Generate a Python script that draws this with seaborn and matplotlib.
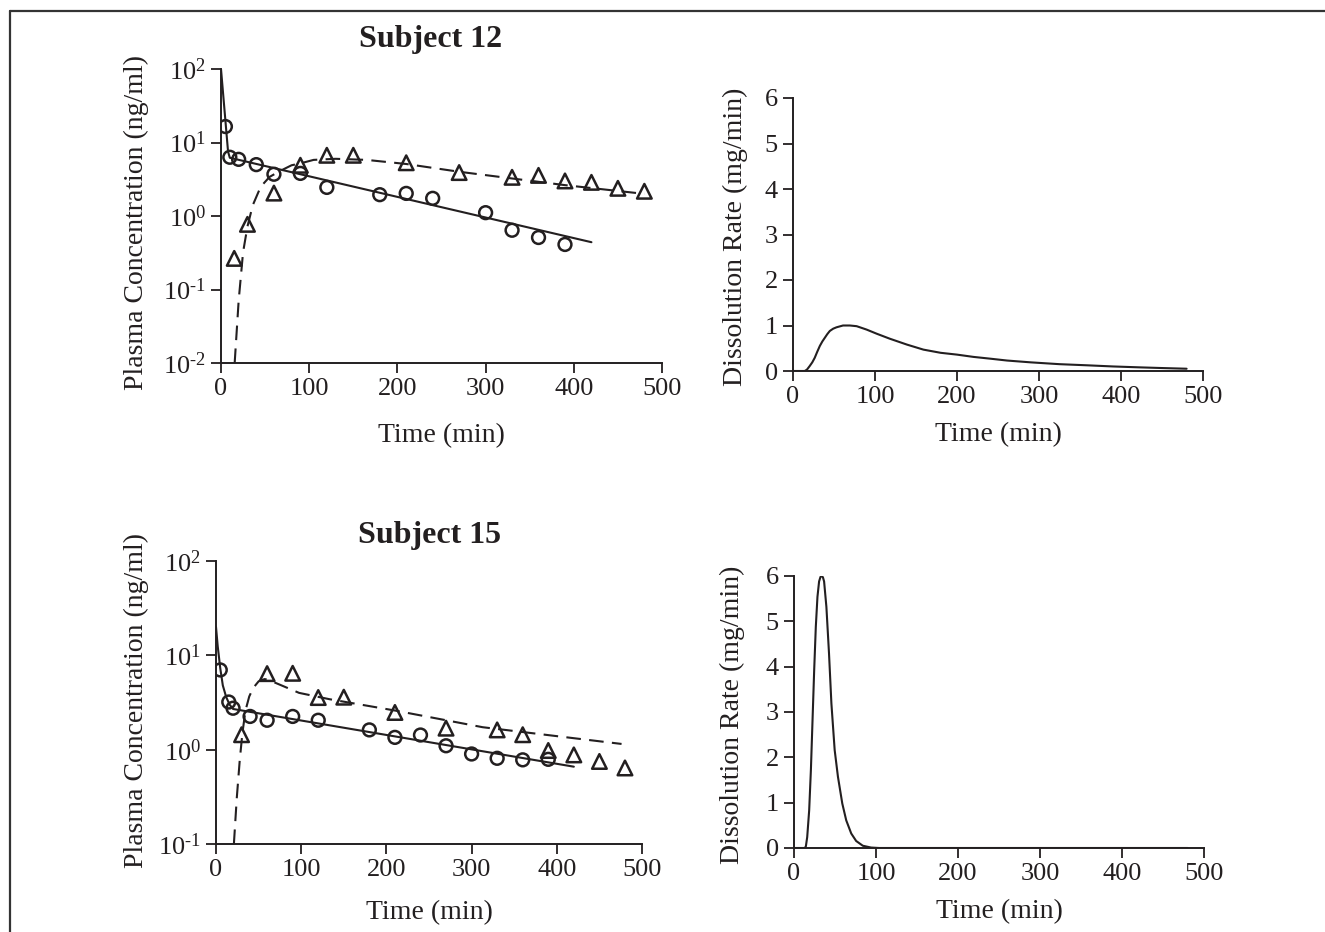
import matplotlib
matplotlib.use("Agg")
import matplotlib.pyplot as plt
import seaborn as sns
from matplotlib.lines import Line2D
from matplotlib.ticker import FixedLocator, FuncFormatter, NullLocator, MultipleLocator

# ---- data ----
# Subject 12, observed points
s12_circ_t = [5, 10, 20, 40, 60, 90, 120, 180, 210, 240, 300, 330, 360, 390]
s12_circ_c = [16.5, 6.3, 5.9, 5.0, 3.7, 3.8, 2.45, 1.95, 2.03, 1.74, 1.11, 0.64, 0.51, 0.41]
s12_tri_t = [15, 30, 60, 90, 120, 150, 210, 270, 330, 360, 390, 420, 450, 480]
s12_tri_c = [0.265, 0.77, 2.05, 4.9, 6.7, 6.7, 5.3, 3.9, 3.36, 3.57, 3.0, 2.87, 2.38, 2.17]
# Subject 12, fitted curves
s12_fit_solid_t = [0, 8, 10, 420]
s12_fit_solid_c = [100, 7.5, 6.2, 0.44]
s12_fit_dash_t = [15.5, 20, 25, 30, 36, 45, 55, 67, 80, 90, 105, 130, 165, 210, 270, 330, 390, 480]
s12_fit_dash_c = [0.01, 0.07, 0.32, 0.72, 1.4, 2.5, 3.4, 4.1, 4.9, 5.2, 5.8, 6.0, 5.8, 5.1, 4.0, 3.24, 2.63, 2.0]
# Subject 12, dissolution rate
s12_rate_t = [0, 14.3, 17, 20.4, 23.5, 26.5, 29.5, 32.7, 35.8, 38.8, 41.8, 44.9, 49, 53, 61,
              69.4, 77.6, 89.8, 102, 118, 139, 159, 180, 200, 220, 241, 261, 290, 325, 359,
              390, 423, 450, 480]
s12_rate_r = [0, 0, 0.03, 0.11, 0.19, 0.29, 0.42, 0.55, 0.65, 0.73, 0.81, 0.88, 0.93, 0.96, 1.0,
              1.0, 0.985, 0.91, 0.82, 0.71, 0.58, 0.47, 0.40, 0.36, 0.31, 0.27, 0.23, 0.19, 0.15, 0.125,
              0.1, 0.08, 0.065, 0.05]

# Subject 15, observed points
s15_circ_t = [5, 15, 20, 40, 60, 90, 120, 180, 210, 240, 270, 300, 330, 360, 390]
s15_circ_c = [7.0, 3.2, 2.75, 2.25, 2.05, 2.25, 2.05, 1.62, 1.35, 1.43, 1.10, 0.90, 0.81, 0.78, 0.79]
s15_tri_t = [30, 60, 90, 120, 150, 210, 270, 330, 360, 390, 420, 450, 480]
s15_tri_c = [1.44, 6.4, 6.45, 3.57, 3.6, 2.48, 1.69, 1.62, 1.44, 0.98, 0.88, 0.75, 0.64]
# Subject 15, fitted curves
s15_fit_solid_t = [0, 2, 5, 8, 12, 16, 20, 420]
s15_fit_solid_c = [20, 12.5, 7.3, 4.8, 3.6, 3.0, 2.7, 0.66]
s15_fit_dash_t = [21, 24.3, 27.9, 31, 34.6, 39, 43.6, 50, 57, 62, 70, 80, 97.5, 133, 210, 313, 476]
s15_fit_dash_c = [0.1, 0.3, 0.78, 1.5, 2.6, 3.66, 4.5, 5.3, 5.6, 5.5, 5.1, 4.67, 4.0, 3.43, 2.6, 1.73, 1.15]
# Subject 15, dissolution rate
s15_rate_t = [0, 13.3, 14.5, 16.1, 18.5, 20.6, 22.6, 24.6, 26.6, 28.6, 30.6, 32.3, 33.9, 35.3,
              36.7, 39.5, 42.7, 45.6, 49.6, 53.6, 58.9, 63.7, 69.8, 75.8, 83.9, 94, 104, 480]
s15_rate_r = [0, 0, 0.04, 0.24, 0.83, 1.72, 2.82, 3.92, 4.88, 5.54, 5.88, 5.98, 6.0, 5.97,
              5.88, 5.32, 4.29, 3.19, 2.16, 1.57, 0.98, 0.61, 0.32, 0.155, 0.05, 0.01, 0, 0]

time_ticks = [0, 100, 200, 300, 400, 500]
log_ticks_s12 = [1e-2, 1e-1, 1e0, 1e1, 1e2]
log_ticks_s15 = [1e-1, 1e0, 1e1, 1e2]
rate_ticks = [0, 1, 2, 3, 4, 5, 6]

# ---- style ----
sns.set_style("ticks")
plt.rcParams["font.family"] = ["Liberation Serif", "DejaVu Serif"]
plt.rcParams["mathtext.fontset"] = "custom"
plt.rcParams["mathtext.rm"] = "Liberation Serif"
plt.rcParams["mathtext.it"] = "Liberation Serif:italic"
plt.rcParams["mathtext.bf"] = "Liberation Serif:bold"

INK = "#231f20"
W, H = 1325, 932
fig = plt.figure(figsize=(W / 100, H / 100), dpi=100)


def pow10_label(v, pos):
    e = int(round(__import__("math").log10(v)))
    if e < 0:
        return r"$\mathdefault{10^{\text{-}%d}}$" % (-e)
    return r"$\mathdefault{10^{%d}}$" % e


def make_axes(box):
    x0, x1, y0, y1 = box
    return fig.add_axes([x0 / W, 1 - y1 / H, (x1 - x0) / W, (y1 - y0) / H])


def style_axes(ax, box, ylabel, xlab_y, ylab_x, ylab_y):
    x0, x1, y0, y1 = box
    sns.despine(ax=ax)
    for sp in ["left", "bottom"]:
        ax.spines[sp].set_linewidth(1.4)
        ax.spines[sp].set_color(INK)
    ax.tick_params(direction="out", length=7, width=1.3, pad=4,
                   labelsize=19, colors=INK)
    ax.set_xlim(0, 500)
    ax.set_xticks(time_ticks)
    ax.set_xlabel("Time (min)", fontsize=20, color=INK, va="center")
    ax.xaxis.set_label_coords(0.5, (y1 - xlab_y) / (y1 - y0))
    ax.set_ylabel(ylabel, fontsize=20, color=INK, va="center")
    ax.yaxis.set_label_coords((ylab_x - x0) / (x1 - x0), (y1 - ylab_y) / (y1 - y0))


def conc_panel(box, circ_t, circ_c, tri_t, tri_c, sol_t, sol_c, dash_t, dash_c, yticks,
               xlab_y, ylab_x, ylab_y):
    ax = make_axes(box)
    sns.lineplot(x=sol_t, y=sol_c, ax=ax, color=INK, lw=1.5, estimator=None, sort=False)
    sns.lineplot(x=dash_t, y=dash_c, ax=ax, color=INK, lw=1.5, estimator=None, sort=False)
    ax.lines[-1].set_dashes([7, 4])
    sns.scatterplot(x=circ_t, y=circ_c, ax=ax, marker="o", s=85, facecolor="none",
                    edgecolor=INK, linewidth=1.8, zorder=3)
    sns.scatterplot(x=tri_t, y=tri_c, ax=ax, marker="^", s=110, facecolor="none",
                    edgecolor=INK, linewidth=1.8, zorder=3)
    ax.set_yscale("log")
    ax.set_ylim(yticks[0], yticks[-1])
    ax.yaxis.set_major_locator(FixedLocator(yticks))
    ax.yaxis.set_major_formatter(FuncFormatter(pow10_label))
    ax.yaxis.set_minor_locator(NullLocator())
    style_axes(ax, box, "Plasma Concentration (ng/ml)", xlab_y, ylab_x, ylab_y)
    return ax


def rate_panel(box, t, r, xlab_y, ylab_x, ylab_y):
    ax = make_axes(box)
    sns.lineplot(x=t, y=r, ax=ax, color=INK, lw=1.5, estimator=None, sort=False)
    ax.set_ylim(0, 6)
    ax.set_yticks(rate_ticks)
    style_axes(ax, box, "Dissolution Rate (mg/min)", xlab_y, ylab_x, ylab_y)
    return ax


# pixel boxes (x0, x1, y0, y1) of each plotting area
box_tl = (221, 662, 69, 363)
box_tr = (793, 1203, 98, 371)
box_bl = (216, 642, 561, 844)
box_br = (794, 1204, 576, 848)

conc_panel(box_tl, s12_circ_t, s12_circ_c, s12_tri_t, s12_tri_c,
           s12_fit_solid_t, s12_fit_solid_c, s12_fit_dash_t, s12_fit_dash_c, log_ticks_s12,
           436, 136, 223)
rate_panel(box_tr, s12_rate_t, s12_rate_r, 435, 735, 237)
conc_panel(box_bl, s15_circ_t, s15_circ_c, s15_tri_t, s15_tri_c,
           s15_fit_solid_t, s15_fit_solid_c, s15_fit_dash_t, s15_fit_dash_c, log_ticks_s15,
           913, 136, 701)
rate_panel(box_br, s15_rate_t, s15_rate_r, 912, 732, 715)

fig.text(431 / W, 1 - 40 / H, "Subject 12", ha="center", va="center",
         fontsize=23, fontweight="bold", color=INK)
fig.text(429 / W, 1 - 535 / H, "Subject 15", ha="center", va="center",
         fontsize=23, fontweight="bold", color=INK)

# frame lines along the top and left edge
fig.add_artist(Line2D([9.5 / W, 1], [1 - 11 / H, 1 - 11 / H], transform=fig.transFigure,
                      color="#333333", lw=1.6))
fig.add_artist(Line2D([9.5 / W, 9.5 / W], [0, 1 - 11 / H], transform=fig.transFigure,
                      color="#333333", lw=1.6))

fig.savefig("out.png", dpi=100, facecolor="white")
